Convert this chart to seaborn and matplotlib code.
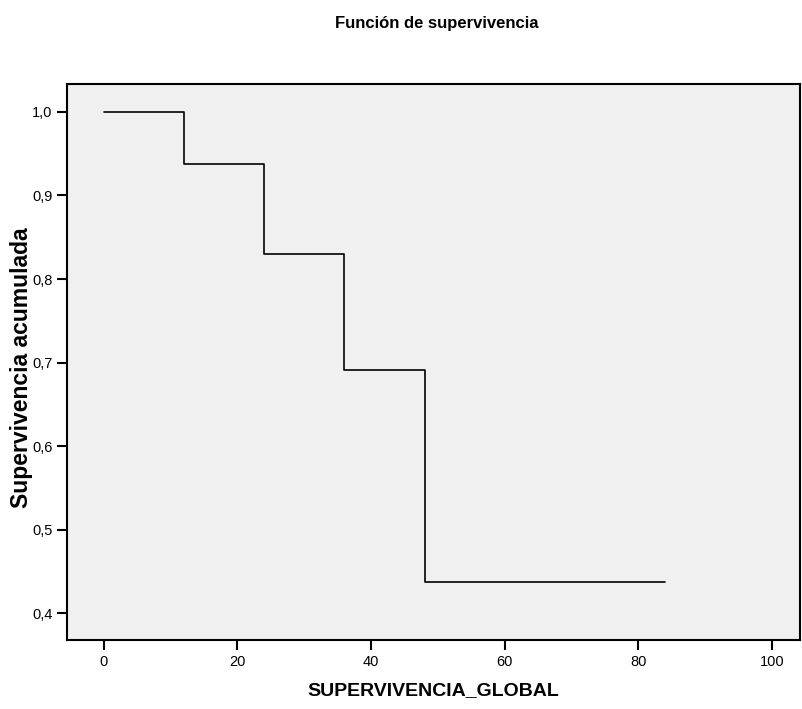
import matplotlib
matplotlib.use("Agg")
import matplotlib.pyplot as plt
import seaborn as sns
import pandas as pd

# Kaplan-Meier steps
tiempo = [0, 12, 24, 36, 48, 84]
supervivencia = [1.0, 0.9375, 0.830, 0.691, 0.4375, 0.4375]

x_ticks = [0, 20, 40, 60, 80, 100]
y_ticks = [0.4, 0.5, 0.6, 0.7, 0.8, 0.9, 1.0]

sns.set_theme(style="white")
plt.rcParams["font.family"] = ["Liberation Sans", "DejaVu Sans"]
plt.rcParams["text.color"] = "black"
plt.rcParams["axes.labelcolor"] = "black"

df = pd.DataFrame({"t": tiempo, "s": supervivencia})

fig = plt.figure(figsize=(8.03, 7.09), dpi=100)
ax = fig.add_axes([0.0834, 0.0973, 0.913, 0.7842])
ax.set_facecolor("#F0F0F0")

sns.lineplot(data=df, x="t", y="s", drawstyle="steps-post", color="black",
             linewidth=1.2, estimator=None, ax=ax)

ax.set_xlim(-5.5, 104.2)
ax.set_ylim(0.3677, 1.0335)
ax.set_xticks(x_ticks)
ax.set_yticks(y_ticks)
ax.set_yticklabels([f"{v:.1f}".replace(".", ",") for v in y_ticks])
ax.tick_params(direction="out", length=7, width=1.5, labelsize=10.5,
               colors="black", bottom=True, left=True)

for sp in ax.spines.values():
    sp.set_linewidth(1.5)
    sp.set_color("black")

ax.set_xlabel("SUPERVIVENCIA_GLOBAL", fontsize=14, fontweight="bold", labelpad=10)
ax.set_ylabel("Supervivencia acumulada", fontsize=16.5, fontweight="bold")
ax.yaxis.label.set_va("center")
ax.yaxis.set_label_coords(-0.0614, 0.49)
fig.text(0.5436, 0.967, "Función de supervivencia", ha="center", va="center",
         fontsize=12, fontweight="bold")

fig.savefig("out.png", dpi=100, facecolor="white")
